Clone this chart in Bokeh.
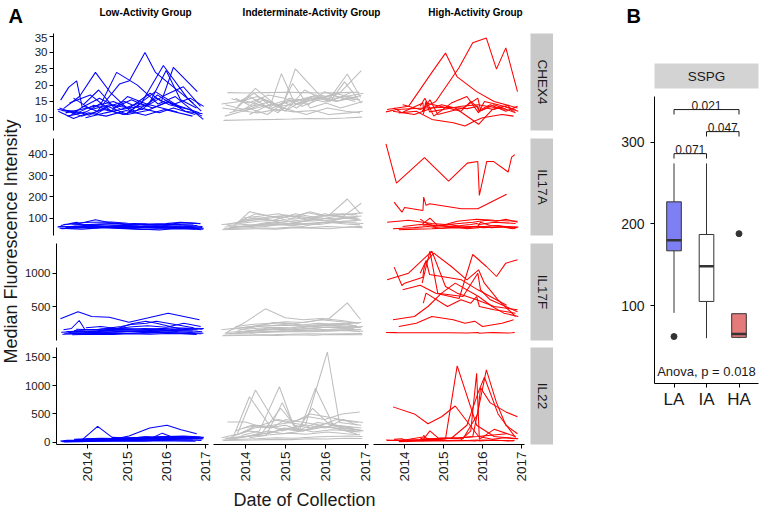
import math
from bokeh.plotting import figure
from bokeh.models import Range1d, FixedTicker, ColumnDataSource, Spacer
from bokeh.layouts import row, column
from bokeh.embed import file_html
from bokeh.resources import INLINE
from bokeh.core.properties import value

FONT = "Liberation Sans"
TXT = "#1a1a1a"

# ---------------- Panel A data ----------------
analytes = ["CHEX4", "IL17A", "IL17F", "IL22"]
group_titles = ["Low-Activity Group", "Indeterminate-Activity Group", "High-Activity Group"]
group_colors = ["#0000FF", "#BEBEBE", "#FF0000"]
year_ticks = [2014, 2015, 2016, 2017]
chex4_ticks = [10, 15, 20, 25, 30, 35]
il17a_ticks = [100, 200, 300, 400]
il17f_ticks = [500, 1000]
il22_ticks = [0, 500, 1000, 1500]

# Low-activity subjects: collection dates (decimal years)
LA_dates = [
    [2013.38, 2013.58, 2013.78, 2013.92, 2014.35, 2014.90, 2015.60, 2016.30],
    [2013.30, 2013.75, 2014.10, 2014.55, 2015.05, 2015.55, 2016.05, 2016.85],
    [2013.45, 2013.85, 2014.25, 2014.62, 2015.12, 2015.48, 2015.75, 2016.40],
    [2013.55, 2014.02, 2014.40, 2014.78, 2015.30, 2015.82, 2016.25, 2016.95],
    [2013.65, 2013.95, 2014.30, 2014.85, 2015.10, 2015.49, 2015.75, 2016.70],
    [2013.35, 2013.90, 2014.45, 2015.00, 2015.40, 2015.95, 2016.55, 2016.90],
    [2013.70, 2014.15, 2014.60, 2015.10, 2015.62, 2015.90, 2016.20, 2016.80],
    [2013.50, 2014.05, 2014.70, 2015.25, 2015.78, 2016.10, 2016.60, 2016.92],
    [2013.95, 2014.33, 2014.72, 2015.15, 2015.52, 2016.00, 2016.45, 2016.88],
    [2013.40, 2013.80, 2014.20, 2014.95, 2015.45, 2015.85, 2016.20, 2016.75],
    [2014.00, 2014.50, 2014.88, 2015.35, 2015.68, 2016.08, 2016.50, 2016.93],
    [2013.60, 2014.12, 2014.65, 2015.05, 2015.58, 2016.02, 2016.38, 2016.78],
    [2014.25, 2014.58, 2014.98, 2015.42, 2015.80, 2016.18, 2016.62, 2016.96],
    [2013.32, 2013.70, 2014.08, 2014.52, 2015.02, 2015.50, 2015.98, 2016.68],
]
LA_CHEX4 = [
    [15.4, 19.3, 21.3, 13.2, 16.0, 12.5, 14.0, 11.8],
    [12.5, 12.0, 10.8, 13.5, 11.0, 12.2, 14.8, 11.5],
    [12.8, 16.5, 23.9, 17.8, 12.0, 15.5, 18.0, 13.0],
    [10.5, 11.8, 14.5, 23.9, 20.0, 14.2, 16.5, 9.5],
    [11.0, 13.5, 12.0, 20.3, 21.3, 30.0, 23.9, 14.5],
    [13.0, 10.5, 12.5, 11.0, 14.5, 26.0, 16.0, 12.0],
    [16.0, 12.5, 14.0, 13.0, 17.5, 15.0, 25.4, 18.0],
    [11.5, 13.0, 15.0, 12.0, 16.0, 14.0, 12.5, 10.5],
    [14.0, 18.5, 13.0, 15.5, 13.5, 17.0, 19.5, 13.5],
    [12.2, 11.5, 13.8, 11.0, 12.8, 11.5, 13.0, 11.0],
    [10.0, 11.5, 12.5, 14.5, 13.0, 15.0, 12.0, 11.2],
    [14.5, 17.0, 12.0, 16.5, 14.0, 24.5, 15.5, 13.0],
    [11.0, 13.5, 15.0, 12.5, 17.0, 14.0, 16.0, 13.5],
    [12.0, 9.8, 11.5, 10.5, 12.2, 10.8, 12.5, 10.5],
]
LA_IL17A = [
    [65, 72, 80, 68, 60, 58, 62, 55],
    [58, 62, 55, 60, 52, 57, 54, 50],
    [70, 75, 92, 78, 70, 72, 66, 68],
    [60, 55, 58, 62, 56, 52, 58, 48],
    [72, 68, 70, 74, 66, 70, 68, 72],
    [52, 48, 55, 50, 46, 50, 52, 45],
    [62, 66, 60, 64, 58, 62, 70, 65],
    [56, 60, 64, 58, 62, 55, 60, 56],
    [68, 72, 75, 70, 66, 70, 78, 74],
    [50, 54, 58, 52, 48, 44, 50, 47],
    [64, 60, 66, 62, 60, 58, 64, 60],
    [75, 80, 82, 76, 72, 74, 80, 76],
    [54, 58, 52, 56, 60, 54, 57, 52],
    [60, 57, 62, 58, 56, 62, 60, 58],
]
LA_IL17F = [
    [150, 170, 290, 160, 145, 150, 140, 130],
    [315, 420, 350, 340, 265, 330, 400, 300],
    [120, 135, 125, 140, 240, 280, 250, 160],
    [95, 110, 105, 130, 125, 110, 120, 100],
    [140, 150, 160, 200, 230, 250, 280, 180],
    [85, 90, 100, 95, 110, 105, 95, 90],
    [160, 150, 175, 165, 150, 170, 160, 150],
    [110, 120, 115, 130, 125, 140, 135, 120],
    [180, 200, 170, 195, 210, 190, 250, 200],
    [100, 95, 105, 100, 98, 110, 105, 95],
    [130, 140, 150, 145, 160, 150, 170, 160],
    [75, 85, 80, 90, 85, 95, 90, 80],
    [145, 160, 155, 170, 165, 180, 175, 170],
    [115, 125, 120, 135, 130, 125, 140, 130],
]
LA_IL22 = [
    [30, 25, 40, 45, 50, 60, 70, 55],
    [20, 30, 35, 40, 60, 75, 90, 80],
    [35, 40, 280, 85, 70, 95, 80, 65],
    [15, 20, 30, 35, 50, 60, 75, 60],
    [50, 60, 55, 70, 80, 90, 75, 70],
    [10, 15, 20, 30, 25, 35, 40, 30],
    [45, 50, 60, 55, 70, 160, 80, 60],
    [25, 30, 35, 40, 45, 50, 60, 55],
    [60, 70, 65, 80, 90, 100, 110, 90],
    [5, 10, 15, 20, 15, 25, 20, 15],
    [35, 40, 50, 60, 70, 80, 90, 75],
    [20, 35, 50, 110, 250, 298, 220, 150],
    [55, 60, 70, 75, 90, 100, 95, 85],
    [15, 20, 25, 30, 35, 40, 45, 40],
]

# Indeterminate-activity subjects
IA_dates = [
    [2013.40, 2013.85, 2014.30, 2014.80, 2015.30, 2015.80, 2016.30, 2016.90],
    [2013.55, 2014.00, 2014.50, 2015.00, 2015.45, 2015.90, 2016.40, 2016.85],
    [2013.70, 2014.10, 2014.60, 2014.90, 2015.25, 2015.70, 2016.15, 2016.75],
    [2013.45, 2014.20, 2014.75, 2015.15, 2015.60, 2016.05, 2016.50, 2016.92],
    [2013.80, 2014.25, 2014.70, 2015.05, 2015.55, 2016.00, 2016.45, 2016.80],
    [2013.60, 2014.05, 2014.55, 2014.95, 2015.25, 2015.85, 2016.25, 2016.95],
    [2013.90, 2014.35, 2014.85, 2015.20, 2015.65, 2016.10, 2016.55, 2016.88],
    [2013.50, 2013.95, 2014.40, 2014.88, 2015.35, 2015.75, 2016.20, 2016.70],
    [2014.00, 2014.45, 2014.80, 2015.10, 2015.50, 2016.05, 2016.35, 2016.90],
    [2013.75, 2014.15, 2014.65, 2015.00, 2015.48, 2015.88, 2016.28, 2016.82],
    [2013.42, 2014.30, 2014.78, 2015.22, 2015.72, 2016.08, 2016.60, 2016.93],
    [2013.85, 2014.22, 2014.68, 2015.12, 2015.58, 2015.98, 2016.42, 2016.86],
    [2014.10, 2014.52, 2014.92, 2015.28, 2015.68, 2016.12, 2016.48, 2016.90],
    [2013.65, 2014.08, 2014.58, 2014.98, 2015.42, 2015.82, 2016.22, 2016.78],
    [2013.95, 2014.40, 2014.82, 2015.18, 2015.62, 2016.02, 2016.38, 2016.94],
    [2013.48, 2013.92, 2014.62, 2015.08, 2015.52, 2016.05, 2016.52, 2016.87],
]
IA_CHEX4 = [
    [14.2, 15.0, 16.5, 14.0, 15.5, 16.0, 15.2, 16.8],
    [17.7, 17.6, 17.7, 17.8, 17.7, 17.6, 17.7, 17.8],
    [12.0, 16.5, 13.0, 23.5, 14.0, 15.5, 17.0, 15.0],
    [9.2, 9.4, 9.5, 9.6, 9.8, 9.7, 9.9, 10.2],
    [13.5, 19.0, 14.5, 12.5, 16.0, 14.8, 16.5, 15.5],
    [11.5, 13.0, 11.0, 14.5, 25.0, 17.0, 16.0, 17.5],
    [15.5, 14.0, 12.0, 15.0, 16.5, 15.8, 23.4, 16.2],
    [14.0, 12.5, 16.0, 13.5, 14.5, 17.0, 15.5, 18.0],
    [12.5, 15.5, 13.5, 16.0, 15.0, 16.5, 17.5, 24.4],
    [16.0, 13.5, 15.0, 12.0, 18.5, 16.0, 15.0, 16.5],
    [13.0, 11.5, 12.5, 11.8, 12.2, 11.0, 11.5, 12.0],
    [15.0, 17.5, 13.0, 15.5, 14.0, 18.0, 16.0, 15.5],
    [11.0, 13.5, 15.0, 13.0, 16.5, 15.0, 21.0, 14.5],
    [15.8, 14.5, 17.0, 16.0, 13.5, 15.5, 17.5, 16.0],
    [12.0, 14.0, 11.5, 20.5, 13.0, 14.5, 13.0, 15.0],
    [10.5, 12.0, 14.0, 12.5, 11.0, 13.0, 12.0, 11.5],
]
IA_IL17A = [
    [70, 75, 85, 90, 80, 95, 100, 110],
    [65, 70, 60, 75, 70, 80, 85, 90],
    [60, 130, 110, 100, 120, 105, 95, 100],
    [50, 55, 52, 58, 55, 60, 57, 62],
    [80, 120, 105, 90, 125, 110, 120, 115],
    [55, 60, 65, 70, 75, 70, 80, 75],
    [90, 100, 110, 95, 105, 115, 190, 120],
    [70, 85, 95, 80, 90, 100, 120, 115],
    [60, 70, 80, 75, 85, 90, 95, 170],
    [75, 90, 100, 115, 105, 95, 110, 100],
    [45, 50, 48, 55, 52, 50, 58, 55],
    [85, 100, 90, 110, 95, 120, 105, 95],
    [65, 75, 70, 80, 95, 85, 100, 90],
    [55, 65, 80, 70, 60, 75, 85, 80],
    [100, 110, 120, 105, 130, 110, 115, 125],
    [58, 62, 70, 66, 74, 80, 72, 68],
]
IA_IL17F = [
    [150, 180, 200, 220, 210, 250, 230, 260],
    [120, 265, 465, 330, 300, 320, 290, 250],
    [100, 130, 180, 160, 150, 170, 140, 160],
    [70, 75, 80, 85, 90, 88, 92, 95],
    [140, 200, 260, 240, 220, 230, 250, 200],
    [90, 110, 130, 120, 140, 135, 150, 130],
    [180, 220, 260, 240, 280, 320, 555, 305],
    [110, 130, 150, 170, 160, 180, 190, 170],
    [130, 150, 170, 160, 190, 210, 200, 180],
    [200, 230, 250, 270, 260, 300, 280, 250],
    [60, 70, 65, 75, 70, 80, 78, 75],
    [150, 170, 190, 180, 200, 220, 210, 190],
    [100, 120, 140, 130, 150, 160, 170, 150],
    [160, 190, 210, 230, 200, 220, 240, 210],
    [120, 140, 160, 150, 170, 190, 180, 200],
    [90, 100, 115, 125, 120, 130, 140, 120],
]
IA_IL22 = [
    [80, 150, 300, 250, 200, 350, 300, 250],
    [357, 357, 250, 300, 200, 280, 240, 220],
    [100, 803, 300, 200, 250, 180, 220, 200],
    [30, 40, 50, 45, 60, 55, 70, 65],
    [150, 923, 400, 350, 300, 250, 400, 300],
    [50, 100, 200, 150, 180, 250, 300, 200],
    [120, 200, 982, 300, 250, 350, 200, 180],
    [60, 90, 150, 600, 200, 953, 300, 250],
    [100, 150, 200, 250, 300, 1596, 350, 300],
    [200, 300, 250, 400, 350, 300, 400, 350],
    [40, 60, 80, 70, 90, 100, 110, 100],
    [150, 250, 300, 350, 450, 400, 500, 536],
    [80, 120, 700, 200, 600, 300, 250, 200],
    [100, 200, 150, 250, 200, 300, 250, 150],
    [250, 300, 400, 350, 500, 450, 400, 350],
    [70, 100, 130, 160, 140, 180, 150, 130],
]

# High-activity subjects
HA_dates = [
    [2013.52, 2013.79, 2014.51, 2015.13, 2015.61, 2015.88, 2015.92, 2016.11, 2016.28, 2016.66, 2016.75, 2016.83],
    [2013.73, 2013.93, 2014.00, 2014.47, 2014.49, 2014.55, 2014.64, 2015.46, 2015.88, 2016.62],
    [2013.55, 2014.10, 2014.70, 2015.05, 2015.35, 2015.85, 2016.30, 2016.90],
    [2013.95, 2014.40, 2014.80, 2015.40, 2015.75, 2016.10, 2016.36, 2016.60, 2016.90],
    [2013.70, 2014.25, 2014.60, 2014.95, 2015.30, 2015.90, 2016.25, 2016.55, 2016.92],
    [2014.45, 2014.65, 2014.85, 2015.50, 2015.88, 2015.95, 2016.20, 2016.60, 2016.90],
    [2014.40, 2014.52, 2014.75, 2015.20, 2015.60, 2015.90, 2016.05, 2016.40, 2016.85],
    [2013.85, 2014.30, 2014.70, 2015.25, 2015.55, 2015.80, 2016.00, 2016.50, 2016.80],
    [2014.48, 2014.55, 2015.10, 2015.45, 2015.70, 2015.85, 2015.92, 2016.30, 2016.85],
]
HA_CHEX4 = [
    [11.8, 12.5, 13.0, 13.2, 12.8, 13.5, 12.0, 13.0, 12.5, 13.8, 12.2, 12.0],
    [13.0, 11.5, 12.0, 14.5, 12.0, 15.0, 11.8, 13.5, 14.0, 12.5],
    [12.5, 13.5, 23.9, 29.8, 22.5, 18.0, 15.0, 13.0],
    [14.0, 12.5, 15.0, 25.4, 33.0, 34.4, 24.9, 31.4, 18.0],
    [12.0, 11.0, 12.5, 14.0, 13.0, 8.0, 12.5, 13.5, 12.0],
    [12.0, 15.5, 11.0, 13.0, 16.0, 12.5, 14.0, 12.0, 13.5],
    [13.5, 16.0, 10.5, 14.5, 16.5, 11.5, 15.0, 14.0, 12.5],
    [11.5, 12.0, 9.5, 8.5, 7.5, 9.0, 10.0, 11.0, 10.5],
    [11.0, 14.5, 13.0, 12.0, 15.0, 13.5, 12.0, 14.0, 11.5],
]
HA_IL17A = [
    [450, 265, 385, 274, 359, 367, 207, 367, 367, 317, 387, 399],
    [175, 128, 150, 136, 199, 160, 168, 144, 144, 212],
    [80, 90, 75, 70, 85, 95, 90, 85],
    [60, 70, 65, 75, 80, 90, 85, 95, 80],
    [50, 55, 60, 52, 58, 62, 55, 60, 58],
    [70, 100, 65, 55, 60, 80, 65, 60, 55],
    [95, 80, 60, 70, 50, 55, 60, 65, 50],
    [45, 48, 50, 55, 52, 60, 55, 58, 50],
    [65, 70, 60, 65, 70, 75, 70, 80, 75],
]
HA_IL17F = [
    [110, 108, 106, 105, 104, 110, 100, 105, 108, 104, 106, 110],
    [1090, 815, 850, 940, 1050, 1190, 980, 900, 750, 520],
    [900, 1000, 1330, 800, 700, 600, 500, 450],
    [750, 820, 700, 620, 1280, 1100, 950, 1150, 1200],
    [300, 350, 500, 700, 850, 650, 500, 400, 350],
    [850, 1330, 700, 650, 1000, 750, 600, 500, 420],
    [1000, 1150, 1300, 1100, 900, 1050, 850, 600, 350],
    [200, 250, 350, 300, 250, 280, 200, 250, 300],
    [550, 700, 500, 600, 550, 650, 500, 450, 400],
]
HA_IL22 = [
    [40, 30, 35, 25, 30, 40, 20, 30, 35, 25, 30, 35],
    [50, 60, 40, 90, 120, 70, 60, 80, 100, 150],
    [30, 40, 50, 60, 1352, 300, 100, 60],
    [40, 30, 60, 80, 100, 1280, 700, 300, 150],
    [625, 500, 327, 450, 641, 100, 50, 80, 60],
    [20, 200, 80, 60, 500, 964, 696, 536, 450],
    [60, 80, 40, 70, 300, 900, 1150, 500, 80],
    [10, 15, 20, 25, 30, 20, 40, 30, 20],
    [20, 50, 30, 40, 200, 1220, 50, 227, 100],
]

# ---------------- Panel B data ----------------
box_groups = ["LA", "IA", "HA"]
box_pos = [1, 2, 3]
box_lower = [91, 60, 60]
box_q1 = [167, 105, 61]
box_median = [180, 148, 65]
box_q3 = [227, 187, 90]
box_upper = [274, 274, 90]
box_fill = ["#7F7FF5", "#FFFFFF", "#E57A7A"]
outlier_pos = [1, 3]
outlier_vals = [62, 188]
cmp_from = [1, 2, 1]
cmp_to = [2, 3, 3]
cmp_y = [286, 313, 340]
cmp_labels = ["0.071", "0.047", "0.021"]
sspg_ticks = [100, 200, 300]
anova_label = "Anova, p = 0.018"

# ---------------- helpers ----------------
def style_axis(ax, size):
    ax.axis_line_color = "black"
    ax.axis_line_width = 1
    ax.major_tick_line_color = "black"
    ax.major_tick_line_width = 1
    ax.major_tick_out = 4
    ax.major_tick_in = 0
    ax.minor_tick_line_color = None
    ax.major_label_text_font = FONT
    ax.major_label_text_font_size = size
    ax.major_label_text_color = TXT


def bare(p, bg=None):
    p.outline_line_color = None
    p.grid.visible = False
    p.xgrid.grid_line_color = None
    p.ygrid.grid_line_color = None
    p.background_fill_color = bg
    p.border_fill_color = "white"
    return p


def deco(width, height):
    p = figure(width=width, height=height, x_range=Range1d(0, width), y_range=Range1d(0, height),
               output_backend="svg", toolbar_location=None, x_axis_location=None, y_axis_location=None,
               min_border_left=0, min_border_right=0, min_border_top=0, min_border_bottom=0)
    return bare(p)


group_data = [
    (LA_dates, [LA_CHEX4, LA_IL17A, LA_IL17F, LA_IL22]),
    (IA_dates, [IA_CHEX4, IA_IL17A, IA_IL17F, IA_IL22]),
    (HA_dates, [HA_CHEX4, HA_IL17A, HA_IL17F, HA_IL22]),
]
row_ticks = [chex4_ticks, il17a_ticks, il17f_ticks, il22_ticks]
row_limits = [(6.1, 35.8), (18, 475), (-10, 1445), (-41, 1676)]

xr = Range1d(2013.2, 2017.08)
yrs = [Range1d(*lim) for lim in row_limits]
row_bottom = [8, 8, 7, 41]
FRAME_H = 97
col_frame_w = [155, 155, 151]
col_border_l = [32, 0, 0]
col_border_r = [5, 5, 6]
YT_W = 21
STRIP_W = 23

rows = []
for ri in range(4):
    cells = []
    for ci in range(3):
        mbl = col_border_l[ci]
        mbr = col_border_r[ci]
        mbb = row_bottom[ri]
        p = figure(width=mbl + col_frame_w[ci] + mbr, height=FRAME_H + mbb, x_range=xr, y_range=yrs[ri],
                   output_backend="svg", toolbar_location=None,
                   x_axis_location="below" if ri == 3 else None,
                   y_axis_location="left" if ci == 0 else None,
                   min_border_left=mbl, min_border_right=mbr, min_border_top=0, min_border_bottom=mbb)
        bare(p, "white")
        if ci == 0:
            ax = p.yaxis[0]
            style_axis(ax, "11.5px")
            ax.ticker = FixedTicker(ticks=row_ticks[ri])
            ax.major_label_standoff = 2
        if ri == 3:
            ax = p.xaxis[0]
            style_axis(ax, "13.5px")
            ax.ticker = FixedTicker(ticks=year_ticks)
            ax.major_label_orientation = math.pi / 2
            ax.major_label_standoff = 3
        dates, series = group_data[ci]
        src = ColumnDataSource(data=dict(xs=dates, ys=series[ri]))
        p.multi_line("xs", "ys", source=src, line_color=group_colors[ci], line_width=1.05)
        cells.append(p)
    # facet strip
    s = figure(width=STRIP_W, height=FRAME_H + row_bottom[ri], x_range=Range1d(0, 1), y_range=Range1d(0, 1),
               output_backend="svg", toolbar_location=None, x_axis_location=None, y_axis_location=None,
               min_border_left=0, min_border_right=0, min_border_top=0, min_border_bottom=row_bottom[ri])
    bare(s, "#C9C9C9")
    s.text(x=[0.5], y=[0.5], text=[analytes[ri]], angle=-math.pi / 2, text_align="center",
           text_baseline="middle", text_font=value(FONT), text_font_size=value("13.5px"), text_color=TXT)
    cells.append(s)
    rows.append(row(*cells))

rows_h = sum(FRAME_H + b for b in row_bottom)
colA_w = YT_W + sum(col_border_l) + sum(col_frame_w) + sum(col_border_r) + STRIP_W

# y title
yt = deco(YT_W, rows_h)
yt.text(x=[10.5], y=[rows_h - 208], text=["Median Fluorescence Intensity"], angle=math.pi / 2,
        text_align="center", text_baseline="middle", text_font=value(FONT),
        text_font_size=value("18px"), text_color=TXT)

# x title
XT_H = 25
xt = deco(colA_w, XT_H)
xt.text(x=[304], y=[11], text=["Date of Collection"], text_align="center", text_baseline="middle",
        text_font=value(FONT), text_font_size=value("18px"), text_color=TXT)

colA = column(row(yt, column(*rows)), xt)

# ---------------- Panel B ----------------
WB = 207
TOTAL_W = colA_w + WB
TB_H = 33
tb = deco(TOTAL_W, TB_H)
tb.text(x=[8, 626], y=[29, 29], text=["A", "B"], text_align="left", text_baseline="top",
        text_font=value(FONT), text_font_size=value("20px"), text_font_style="bold", text_color="black")
tb.text(x=[145, 311, 475], y=[21.5, 21.5, 21.5], text=group_titles, text_align="center",
        text_baseline="alphabetic", text_font=value(FONT), text_font_size=value("10px"),
        text_font_style="bold", text_color="black")

B_LEFT = 101
sb = figure(width=WB, height=33, x_range=Range1d(0, 1), y_range=Range1d(0, 1), output_backend="svg",
            toolbar_location=None, x_axis_location=None, y_axis_location=None,
            min_border_left=B_LEFT, min_border_right=2, min_border_top=0, min_border_bottom=8)
bare(sb, "#D3D3D3")
sb.text(x=[0.5], y=[0.5], text=["SSPG"], text_align="center", text_baseline="middle",
        text_font=value(FONT), text_font_size=value("13.5px"), text_color=TXT)

MB_H = rows_h + XT_H - 30 - 33
mb = figure(width=WB, height=MB_H, x_range=Range1d(0.4, 3.6), y_range=Range1d(4.5, 356),
            output_backend="svg", toolbar_location=None,
            min_border_left=B_LEFT, min_border_right=2, min_border_top=0, min_border_bottom=MB_H - 287)
bare(mb, "white")
style_axis(mb.yaxis[0], "14px")
mb.yaxis[0].ticker = FixedTicker(ticks=sspg_ticks)
mb.yaxis[0].major_label_standoff = 6
style_axis(mb.xaxis[0], "17px")
mb.xaxis[0].ticker = FixedTicker(ticks=box_pos)
mb.xaxis[0].major_label_overrides = {pos: g for pos, g in zip(box_pos, box_groups)}
mb.xaxis[0].major_label_standoff = 2

BOXC = "#333333"
mb.segment(x0=box_pos, y0=box_q3, x1=box_pos, y1=box_upper, line_color=BOXC, line_width=1)
mb.segment(x0=box_pos, y0=box_q1, x1=box_pos, y1=box_lower, line_color=BOXC, line_width=1)
mb.vbar(x=box_pos, bottom=box_q1, top=box_q3, width=0.45, fill_color=box_fill, line_color=BOXC, line_width=1)
half = 0.225
mb.segment(x0=[p - half for p in box_pos], x1=[p + half for p in box_pos], y0=box_median, y1=box_median,
           line_color=BOXC, line_width=2.5)
mb.scatter(x=outlier_pos, y=outlier_vals, size=6, fill_color=BOXC, line_color=BOXC)

drop = 6
mb.segment(x0=cmp_from, x1=cmp_to, y0=cmp_y, y1=cmp_y, line_color=TXT, line_width=1)
mb.segment(x0=cmp_from, x1=cmp_from, y0=cmp_y, y1=[y - drop for y in cmp_y], line_color=TXT, line_width=1)
mb.segment(x0=cmp_to, x1=cmp_to, y0=cmp_y, y1=[y - drop for y in cmp_y], line_color=TXT, line_width=1)
mb.text(x=[(a + b) / 2 for a, b in zip(cmp_from, cmp_to)], y=[y + 4.5 for y in cmp_y], text=cmp_labels,
        text_align="center", text_baseline="alphabetic", text_font=value(FONT),
        text_font_size=value("12px"), text_color=TXT)
mb.text(x=[2], y=[19], text=[anova_label], text_align="center", text_baseline="middle",
        text_font=value(FONT), text_font_size=value("13px"), text_color=TXT)

colB = column(Spacer(width=WB, height=30), sb, mb)

page = column(tb, row(colA, colB))
open("out.html", "w").write(file_html(page, INLINE))
